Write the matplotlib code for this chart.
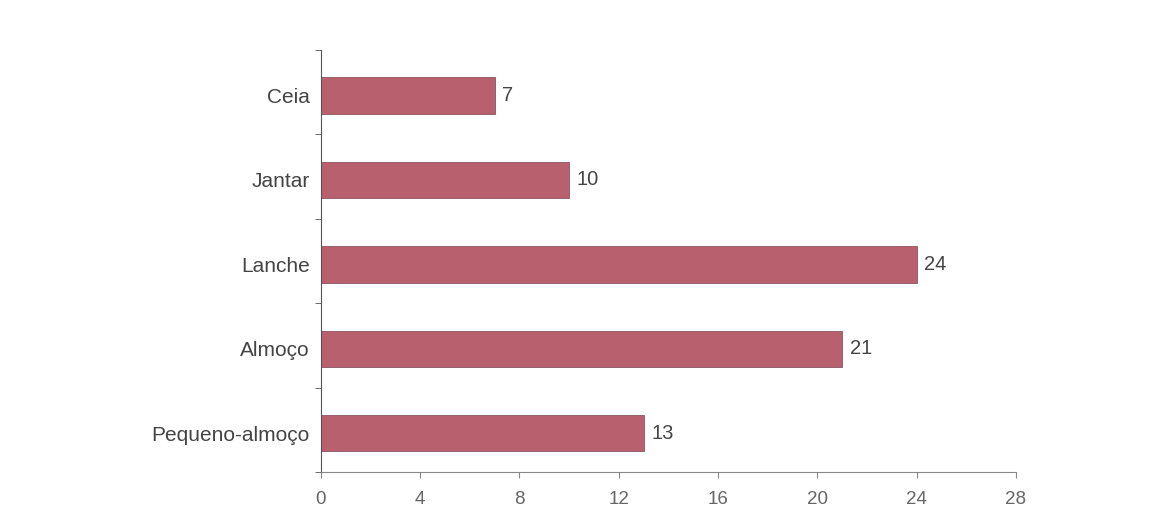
import matplotlib
matplotlib.use("Agg")
import matplotlib.pyplot as plt

categorias = ["Pequeno-almoço", "Almoço", "Lanche", "Jantar", "Ceia"]
valores = [13, 21, 24, 10, 7]
ticks_x = [0, 4, 8, 12, 16, 20, 24, 28]

plt.rcParams['font.family'] = ['Liberation Sans', 'DejaVu Sans']

fig = plt.figure(figsize=(11.57, 5.30), dpi=100)
ax = fig.add_axes([0.2774, 0.1094, 0.6006, 0.7963])

pos = range(len(categorias))
ax.barh(pos, valores, height=0.43, color='#b8606e', edgecolor='#8a5560', linewidth=0.6)
for p, v in zip(pos, valores):
    ax.text(v + 0.3, p, str(v), va='center', ha='left', fontsize=14.5, color='#444444')

ax.set_ylim(-0.46, len(categorias) - 0.46)
ax.set_xlim(0, 28)
ax.set_xticks(ticks_x)
ax.set_yticks(pos)
ax.set_yticklabels(categorias)
ax.set_yticks([i - 0.46 for i in range(len(categorias) + 1)], minor=True)
ax.tick_params(axis='y', which='major', length=0, pad=8, labelsize=15, labelcolor='#444444')
ax.tick_params(axis='y', which='minor', length=4, color='#555555')
ax.tick_params(axis='x', length=4, pad=10, labelsize=13.5, labelcolor='#666666', color='#888888')

for s in ['top', 'right']:
    ax.spines[s].set_visible(False)
ax.spines['left'].set_color('#555555')
ax.spines['bottom'].set_color('#888888')
ax.spines['left'].set_linewidth(0.8)
ax.spines['bottom'].set_linewidth(0.8)

fig.savefig("out.png", dpi=100)
